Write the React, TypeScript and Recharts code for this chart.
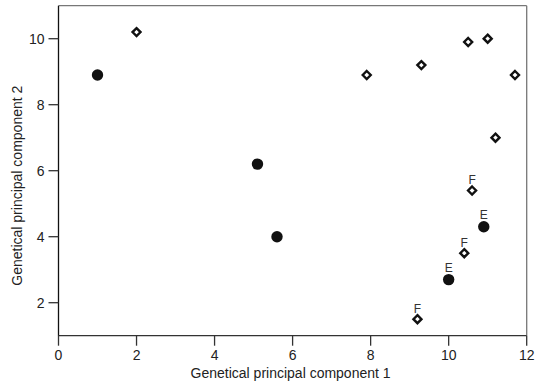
import React from 'react';
import { ScatterChart, Scatter, XAxis, YAxis, ReferenceLine, Label } from 'recharts';

const circleX = [1.0, 5.1, 5.6, 10.0, 10.9];
const circleY = [8.9, 6.2, 4.0, 2.7, 4.3];
const circleLabels = ['', '', '', 'E', 'E'];

const diamondX = [2.0, 7.9, 9.3, 10.5, 11.0, 11.7, 11.2, 10.6, 10.4, 9.2];
const diamondY = [10.2, 8.9, 9.2, 9.9, 10.0, 8.9, 7.0, 5.4, 3.5, 1.5];
const diamondLabels = ['', '', '', '', '', '', '', 'F', 'F', 'F'];

const xTicks = [0, 2, 4, 6, 8, 10, 12];
const yTicks = [2, 4, 6, 8, 10];

const circleData = circleX.map((x, i) => ({ x, y: circleY[i], label: circleLabels[i] }));
const diamondData = diamondX.map((x, i) => ({ x, y: diamondY[i], label: diamondLabels[i] }));

const FONT = 'Liberation Sans, Arial, sans-serif';

const CircleShape = (props: any) => {
  const { cx, cy, payload } = props;
  return (
    <g>
      <circle cx={cx} cy={cy} r={5.7} fill="#111" stroke="none" />
      {payload.label ? (
        <text x={cx} y={cy - 7.5} textAnchor="middle" fontSize={12} fill="#333" fontFamily={FONT}>
          {payload.label}
        </text>
      ) : null}
    </g>
  );
};

const DiamondShape = (props: any) => {
  const { cx, cy, payload } = props;
  const d = 4;
  return (
    <g>
      <path
        d={`M${cx},${cy - d} L${cx + d},${cy} L${cx},${cy + d} L${cx - d},${cy} Z`}
        fill="#fff"
        stroke="#111"
        strokeWidth={2.4}
      />
      {payload.label ? (
        <text x={cx} y={cy - 6.5} textAnchor="middle" fontSize={12} fill="#333" fontFamily={FONT}>
          {payload.label}
        </text>
      ) : null}
    </g>
  );
};

export default function App() {
  return (
    <div style={{ position: 'absolute', left: 0, top: 0, width: 541, height: 386, background: '#fff' }}>
      <ScatterChart
        width={541}
        height={386}
        margin={{ top: 5.7, right: 14.3, bottom: 0, left: 0 }}
        style={{ fontFamily: FONT }}
      >
        <XAxis
          type="number"
          dataKey="x"
          domain={[0, 12]}
          ticks={xTicks}
          interval={0}
          height={50.3}
          tickSize={10}
          tickMargin={4}
          axisLine={{ stroke: '#333', strokeWidth: 1.3 }}
          tickLine={{ stroke: '#333', strokeWidth: 1.3 }}
          tick={{ fill: '#222', fontSize: 14, fontFamily: FONT }}
          allowDataOverflow
        >
          <Label
            value="Genetical principal component 1"
            position="center"
            dy={12}
            dx={-2}
            style={{ fill: '#222', fontSize: 14, fontFamily: FONT }}
          />
        </XAxis>
        <YAxis
          type="number"
          dataKey="y"
          domain={[1, 11]}
          ticks={yTicks}
          interval={0}
          width={58.5}
          tickSize={10}
          tickMargin={4}
          axisLine={{ stroke: '#111', strokeWidth: 1.3 }}
          tickLine={{ stroke: '#333', strokeWidth: 1.3 }}
          tick={{ fill: '#222', fontSize: 14, fontFamily: FONT }}
          allowDataOverflow
        >
          <Label
            value="Genetical principal component 2"
            position="center"
            angle={-90}
            dx={-12}
            dy={15}
            style={{ fill: '#222', fontSize: 14, fontFamily: FONT, textAnchor: 'middle' }}
          />
        </YAxis>
        <ReferenceLine y={11} stroke="#777" strokeWidth={1.3} />
        <ReferenceLine x={12} stroke="#777" strokeWidth={1.3} />
        <Scatter data={circleData} shape={CircleShape} isAnimationActive={false} />
        <Scatter data={diamondData} shape={DiamondShape} isAnimationActive={false} />
      </ScatterChart>
    </div>
  );
}
